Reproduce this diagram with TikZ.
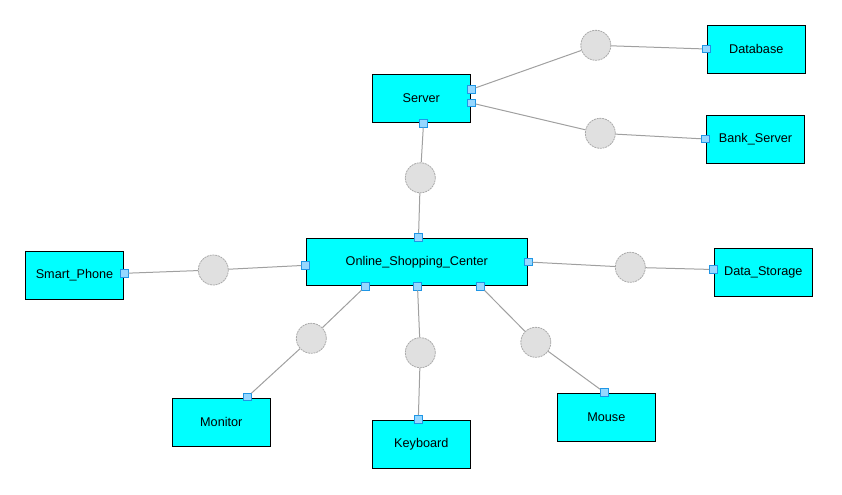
\documentclass[tikz,border=0pt]{standalone}
\usepackage{fontspec}
\setmainfont{Liberation Sans}
\definecolor{boxfill}{RGB}{0,255,255}
\definecolor{portfill}{RGB}{150,215,255}
\definecolor{portdraw}{RGB}{30,150,230}
\definecolor{circfill}{RGB}{224,224,224}
\definecolor{circdraw}{RGB}{170,170,170}
\definecolor{linecol}{RGB}{160,160,160}
\begin{document}
\begin{tikzpicture}[x=0.75pt,y=-0.75pt,
  compbox/.style={draw=black,line width=1pt,fill=boxfill,minimum width=73.5pt,minimum height=36pt,inner sep=0pt,font=\fontsize{9.5}{11}\selectfont},
  port/.style={draw=portdraw,line width=0.6pt,fill=portfill,minimum size=5.6pt,inner sep=0pt},
  hub/.style={circle,draw=circdraw,line width=0.6pt,dash pattern=on 1.5pt off 0.6pt,fill=circfill,minimum size=22.5pt,inner sep=0pt},
  wire/.style={draw=linecol,line width=0.75pt}]
\useasboundingbox (0,0) rectangle (842,494);
% boxes
\node[compbox] (server) at (421.3,98.3) {Server};
\node[compbox] (db) at (756.3,49.3) {Database};
\node[compbox] (bank) at (755.5,139.3) {Bank\_Server};
\node[compbox,minimum width=165.75pt,minimum height=35.25pt] (osc) at (416.8,261.8) {Online\_Shopping\_Center};
\node[compbox] (phone) at (74.5,275.3) {Smart\_Phone};
\node[compbox] (storage) at (763.3,272.2) {Data\_Storage};
\node[compbox] (monitor) at (221.3,422.3) {Monitor};
\node[compbox] (keyboard) at (421.3,444.3) {Keyboard};
\node[compbox] (mouse) at (606.3,417.3) {Mouse};
% hubs
\node[hub] (hdb) at (595.8,45.3) {};
\node[hub] (hbank) at (600.3,133.3) {};
\node[hub] (hsrv) at (420.3,177.8) {};
\node[hub] (hphone) at (213.3,270.0) {};
\node[hub] (hstore) at (630.3,267.3) {};
\node[hub] (hmon) at (311.3,338.3) {};
\node[hub] (hkey) at (420.3,352.7) {};
\node[hub] (hmouse) at (535.8,342.3) {};
% ports
\node[port] (ps1) at (471.5,89.3) {};
\node[port] (ps2) at (471.5,103.0) {};
\node[port] (ps3) at (423.5,123.5) {};
\node[port] (pdb) at (706.3,49.0) {};
\node[port] (pbank) at (705.3,139.0) {};
\node[port] (pot) at (418.5,237.3) {};
\node[port] (pol) at (305.5,265.3) {};
\node[port] (por) at (528.3,262.0) {};
\node[port] (pob1) at (365.5,286.3) {};
\node[port] (pob2) at (417.5,286.3) {};
\node[port] (pob3) at (480.5,286.3) {};
\node[port] (pphone) at (124.3,273.3) {};
\node[port] (pstore) at (713.3,269.5) {};
\node[port] (pmon) at (247.3,397.0) {};
\node[port] (pkey) at (418.3,419.3) {};
\node[port] (pmouse) at (604.3,392.3) {};
% connectors
\draw[wire] (ps1) -- (hdb);
\draw[wire] (hdb) -- (pdb);
\draw[wire] (ps2) -- (hbank);
\draw[wire] (hbank) -- (pbank);
\draw[wire] (ps3) -- (hsrv);
\draw[wire] (hsrv) -- (pot);
\draw[wire] (pphone) -- (hphone);
\draw[wire] (hphone) -- (pol);
\draw[wire] (por) -- (hstore);
\draw[wire] (hstore) -- (pstore);
\draw[wire] (pob1) -- (hmon);
\draw[wire] (hmon) -- (pmon);
\draw[wire] (pob2) -- (hkey);
\draw[wire] (hkey) -- (pkey);
\draw[wire] (pob3) -- (hmouse);
\draw[wire] (hmouse) -- (pmouse);
\end{tikzpicture}
\end{document}
